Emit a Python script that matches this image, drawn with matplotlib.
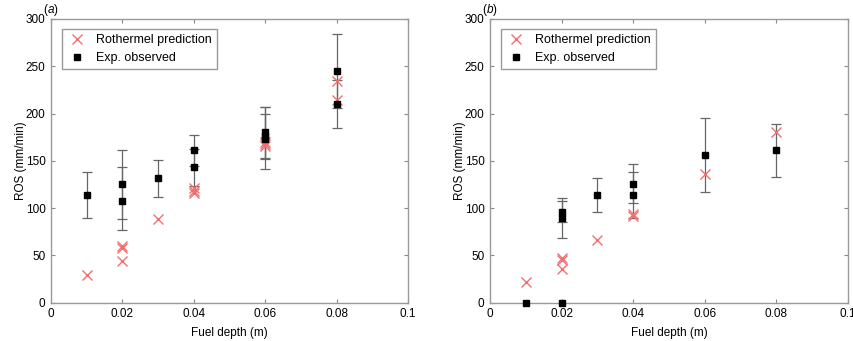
import matplotlib.pyplot as plt
import numpy as np

plt.rcParams['font.family'] = ['Liberation Sans', 'DejaVu Sans']

# (a) Rothermel prediction
a_pred_x = [0.01, 0.02, 0.02, 0.02, 0.03, 0.04, 0.04, 0.04, 0.06, 0.06, 0.06, 0.08, 0.08]
a_pred_y = [29, 60, 58, 44, 89, 121, 118, 116, 170, 168, 166, 234, 214]
# (a) experimental observations with lower / upper error
a_obs_x = [0.01, 0.02, 0.02, 0.03, 0.04, 0.04, 0.06, 0.06, 0.06, 0.08, 0.08]
a_obs_y = [114, 126, 108, 132, 161, 143, 180, 176, 173, 245, 210]
a_err_lo = [24, 37, 31, 20, 16, 20, 27, 24, 32, 39, 25]
a_err_hi = [24, 36, 35, 19, 16, 20, 27, 24, 34, 39, 25]

# (b) Rothermel prediction
b_pred_x = [0.01, 0.02, 0.02, 0.02, 0.03, 0.04, 0.04, 0.06, 0.08]
b_pred_y = [22, 47, 45, 36, 66, 94, 92, 136, 180]
# (b) experimental observations
b_obs_x = [0.01, 0.02, 0.02, 0.02, 0.03, 0.04, 0.04, 0.06, 0.08]
b_obs_y = [0, 0, 96, 89.5, 114, 126, 114, 156, 161]
b_err_lo = [0, 0, 11, 21, 18, 21, 24, 39, 28]
b_err_hi = [0, 0, 11.5, 21, 18, 21, 24, 39, 28]

fig = plt.figure(figsize=(8.54, 3.41), dpi=100)
ax1 = fig.add_axes([0.0597, 0.1123, 0.418, 0.832])
ax2 = fig.add_axes([0.5738, 0.1123, 0.4189, 0.832])

panels = [
    (ax1, 'a', a_pred_x, a_pred_y, a_obs_x, a_obs_y, a_err_lo, a_err_hi),
    (ax2, 'b', b_pred_x, b_pred_y, b_obs_x, b_obs_y, b_err_lo, b_err_hi),
]

for ax, letter, px, py, ox, oy, elo, ehi in panels:
    yerr = np.array([elo, ehi], dtype=float)
    # error bars only where there is an error
    mask = yerr.sum(axis=0) > 0
    ax.errorbar(np.array(ox)[mask], np.array(oy)[mask], yerr=yerr[:, mask],
                fmt='none', ecolor='#666666', elinewidth=0.9, capsize=3.5,
                capthick=0.9, zorder=2)
    ax.plot(px, py, 'x', color='#f07070', markersize=7, markeredgewidth=1.0,
            label='Rothermel prediction', zorder=3)
    ax.plot(ox, oy, 's', color='black', markersize=4.5,
            label='Exp. observed', zorder=4, clip_on=False)

    ax.set_xlim(0, 0.1)
    ax.set_ylim(0, 300)
    ax.set_xticks([0, 0.02, 0.04, 0.06, 0.08, 0.1])
    ax.set_xticklabels(['0', '0.02', '0.04', '0.06', '0.08', '0.1'])
    ax.set_yticks([0, 50, 100, 150, 200, 250, 300])
    ax.tick_params(direction='in', top=True, right=True, length=3,
                   labelsize=8.5, color='#888888', pad=4)
    for s in ax.spines.values():
        s.set_color('#999999')
        s.set_linewidth(1.0)
    ax.set_xlabel('Fuel depth (m)', fontsize=8.5, labelpad=5)
    ax.set_ylabel('ROS (mm/min)', fontsize=8.5, labelpad=-1)
    ax.text(-0.022, 1.012, '(', transform=ax.transAxes, fontsize=8.5,
            ha='left', va='bottom')
    ax.text(-0.008, 1.012, letter, transform=ax.transAxes, fontsize=8.5,
            ha='left', va='bottom', style='italic')
    ax.text(0.009, 1.012, ')', transform=ax.transAxes, fontsize=8.5,
            ha='left', va='bottom')
    leg = ax.legend(loc='upper left', fontsize=9, fancybox=False,
                    framealpha=1, edgecolor='#999999', borderpad=0.4,
                    handletextpad=0.7, labelspacing=0.45, handlelength=1.6,
                    bbox_to_anchor=(0.014, 0.985))
    leg.get_frame().set_linewidth(1.0)

fig.savefig('out.png', dpi=100)
